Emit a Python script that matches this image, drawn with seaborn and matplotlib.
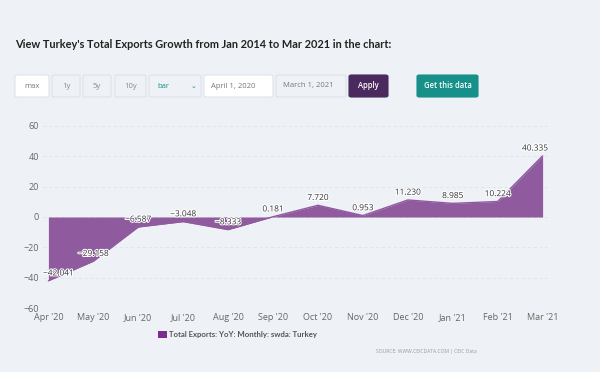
import matplotlib
matplotlib.use("Agg")
import matplotlib.pyplot as plt
import matplotlib.patheffects as pe
from matplotlib.patches import FancyBboxPatch, Rectangle
import seaborn as sns
import pandas as pd

# datos
meses = ["Apr '20", "May '20", "Jun '20", "Jul '20", "Aug '20", "Sep '20",
         "Oct '20", "Nov '20", "Dec '20", "Jan '21", "Feb '21", "Mar '21"]
valores = [-42.041, -29.158, -6.587, -3.048, -8.333, 0.181,
           7.720, 0.953, 11.230, 8.985, 10.224, 40.335]
yticks = [-60, -40, -20, 0, 20, 40, 60]
serie = "Total Exports: YoY: Monthly: swda: Turkey"

fondo = "#eef2f6"
morado = "#8f5a9e"

df = pd.DataFrame({"pos": range(len(meses)), "valor": valores})

sns.set_theme(style="white")
plt.rcParams["font.family"] = ["Open Sans", "DejaVu Sans"]

fig = plt.figure(figsize=(6, 3.72), dpi=100)
fig.patch.set_facecolor(fondo)
W, H = 600, 372

def px(x, y):
    return x / W, 1 - y / H

# titulo
fig.text(*px(15, 44), "View Turkey's Total Exports Growth from Jan 2014 to Mar 2021 in the chart:",
         fontsize=7.9, fontweight="bold", color="#222222", va="center", ha="left",
         family=["Lato", "DejaVu Sans"])

# botones de la pagina
botones = [
    (15, 49, "max", "white", "#777777"),
    (52, 80, "1y", "#eef2f6", "#888888"),
    (83, 111, "5y", "#eef2f6", "#888888"),
    (115, 146, "10y", "#eef2f6", "#888888"),
    (149, 201, "bar", "#eef2f6", "#17908a"),
    (204, 273, "April 1, 2020", "white", "#777777"),
    (276, 346, "March 1, 2021", "#eef2f6", "#777777"),
    (349, 388, "Apply", "#4a2a5e", "white"),
    (417, 478, "Get this data", "#17908a", "white"),
]
for x0, x1, txt, fc, tc in botones:
    bx, by = px(x0, 97)
    bw = (x1 - x0) / W
    bh = 22 / H
    ec = "#dde3ea" if fc in ("white", "#eef2f6") else fc
    fig.patches.append(FancyBboxPatch((bx, by), bw, bh, boxstyle="round,pad=0,rounding_size=0.004",
                                      transform=fig.transFigure, facecolor=fc, edgecolor=ec, lw=0.8))
    if txt == "bar":
        fig.text(bx + 8 / W, by + bh / 2, txt, fontsize=5.5, color=tc, va="center", ha="left")
        fig.text(bx + bw - 8 / W, by + bh / 2, "\u2304", fontsize=5, color=tc, va="center", ha="center")
    elif txt in ("April 1, 2020", "March 1, 2021"):
        fig.text(bx + 7 / W, by + bh / 2, txt, fontsize=5.5, color=tc, va="center", ha="left")
    else:
        fw = "semibold" if fc in ("#4a2a5e", "#17908a") else "normal"
        fig.text(bx + bw / 2, by + bh / 2, txt, fontsize=5.5, color=tc, va="center", ha="center",
                 fontweight=fw)

# eje principal
l, b = px(43, 308)
r, t = px(548, 126)
ax = fig.add_axes([l, b, r - l, t - b])
ax.set_facecolor(fondo)

sns.lineplot(data=df, x="pos", y="valor", ax=ax, color=morado, lw=1, legend=False)
ax.fill_between(df["pos"], df["valor"], 0, color=morado, alpha=1, lw=0)

ax.set_ylim(-60, 60)
ax.set_xlim(-0.12, len(meses) - 1 + 0.12)
ax.set_yticks(yticks)
ax.set_yticklabels([str(v).replace("-", "\u2212") for v in yticks])
ax.set_xticks(range(len(meses)))
ax.set_xticklabels(meses)
ax.tick_params(axis="both", labelsize=6.5, colors="#666666", length=0, pad=3)
ax.tick_params(axis="x", pad=3.5)
for y in yticks:
    ax.axhline(y, color="#dfe4ea", lw=0.6, ls=(0, (4, 3)), zorder=0)
for s in ax.spines.values():
    s.set_visible(False)
ax.set_xlabel("")
ax.set_ylabel("")

# etiquetas de datos (las de los extremos quedan dentro del area)
n = len(valores)
for i, v in enumerate(valores):
    txt = f"{v:.3f}".replace("-", "\u2212")
    if i == 0:
        xi, ha = -0.12, "left"
    elif i == n - 1:
        xi, ha = n - 1 + 0.12, "right"
    else:
        xi, ha = i, "center"
    ax.text(xi, v + 2.2, txt, fontsize=6, color="#333333", ha=ha, va="bottom",
            path_effects=[pe.withStroke(linewidth=1.5, foreground="white")])

# leyenda
lx, ly = px(158, 338)
fig.patches.append(Rectangle((lx, ly), 9 / W, 7 / H, transform=fig.transFigure,
                             facecolor="#7b2d8e", edgecolor="none"))
fig.text(*px(169, 335), serie, fontsize=5.6, color="#555555", va="center", ha="left",
         fontweight="bold", family=["Lato", "DejaVu Sans"])

fig.text(*px(477, 351), "SOURCE: WWW.CEICDATA.COM | CEIC Data", fontsize=3.6, color="#999999",
         va="center", ha="right")

fig.savefig("out.png", dpi=100, facecolor=fondo)
